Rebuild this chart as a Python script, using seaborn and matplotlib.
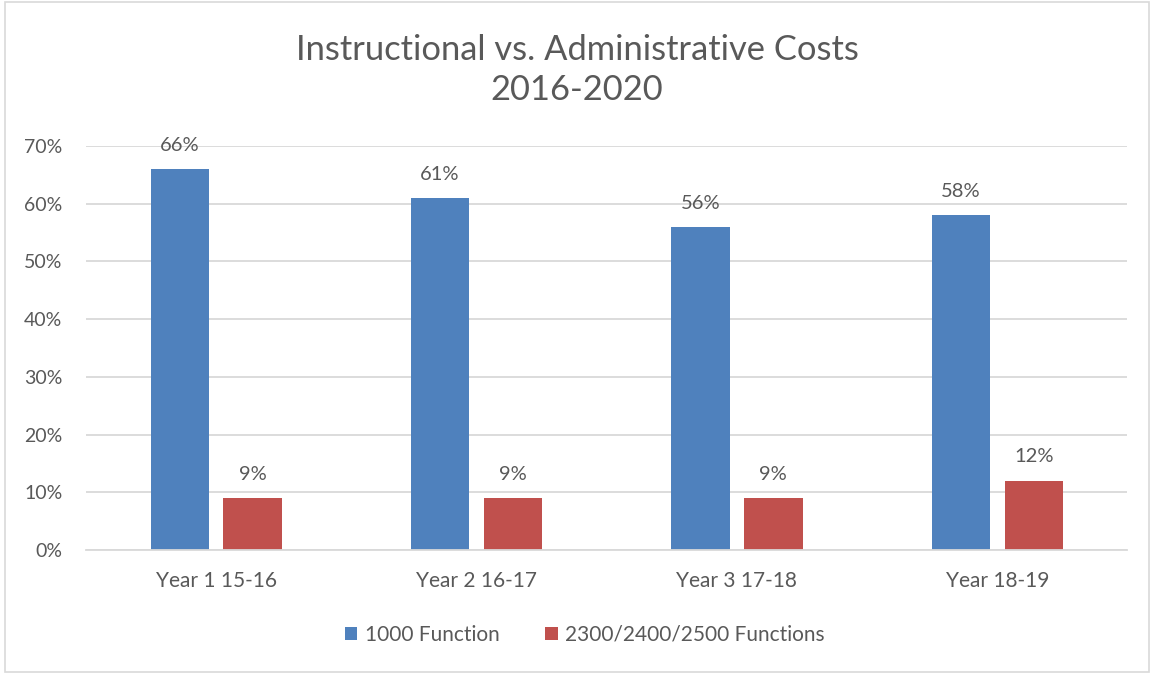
import matplotlib
matplotlib.use("Agg")
import matplotlib.pyplot as plt
import seaborn as sns
import pandas as pd
from matplotlib.patches import Rectangle
from matplotlib.ticker import PercentFormatter, MultipleLocator

categories = ["Year 1 15-16", "Year 2 16-17", "Year 3 17-18", "Year 18-19"]
series_names = ["1000 Function", "2300/2400/2500 Functions"]
instructional = [66, 61, 56, 58]
administrative = [9, 9, 9, 12]
colors = ["#4F81BD", "#C0504D"]
title = "Instructional vs. Administrative Costs\n2016-2020"

df = pd.DataFrame({
    "category": categories * 2,
    "series": [series_names[0]] * 4 + [series_names[1]] * 4,
    "value": instructional + administrative,
})

sns.set_theme(style="white")
plt.rcParams["font.family"] = ["Lato", "DejaVu Sans"]
text_color = "#595959"

fig = plt.figure(figsize=(11.54, 6.74), dpi=100)
ax = fig.add_axes([0.0745, 0.184, 0.9025, 0.5994])

sns.barplot(data=df, x="category", y="value", hue="series", palette=colors,
            width=0.56, gap=0.2, ax=ax, saturation=1, legend=True, linewidth=0)

ax.set_ylim(0, 70)
ax.set_xlim(-0.5, 3.5)
ax.yaxis.set_major_locator(MultipleLocator(10))
ax.yaxis.set_major_formatter(PercentFormatter(decimals=0))
ax.grid(axis="y", color="#D9D9D9", linewidth=1.3)
ax.set_axisbelow(True)
for s in ["top", "right", "left"]:
    ax.spines[s].set_visible(False)
ax.spines["bottom"].set_color("#D9D9D9")
ax.spines["bottom"].set_linewidth(1.3)
ax.set_xlabel("")
ax.set_ylabel("")
ax.tick_params(axis="y", length=0, labelsize=14, colors=text_color, pad=17)
ax.tick_params(axis="x", length=0, labelsize=15, colors=text_color, pad=15)

for cont in ax.containers:
    ax.bar_label(cont, fmt="%g%%", padding=11, fontsize=14.5, color=text_color)

leg = ax.legend(loc="center", bbox_to_anchor=(0.479, -0.21), ncol=2, frameon=False,
                fontsize=15, handlelength=0.6, handleheight=0.6, handletextpad=0.35,
                columnspacing=2.2)
for t in leg.get_texts():
    t.set_color(text_color)

fig.text(0.5, 0.896, title, ha="center", va="center", fontsize=24.8,
         color=text_color, linespacing=1.3)

fig.patches.append(Rectangle((0.004, 0.003), 0.992, 0.994, transform=fig.transFigure,
                             fill=False, edgecolor="#D9D9D9", linewidth=1.2))

fig.savefig("out.png", dpi=100)
